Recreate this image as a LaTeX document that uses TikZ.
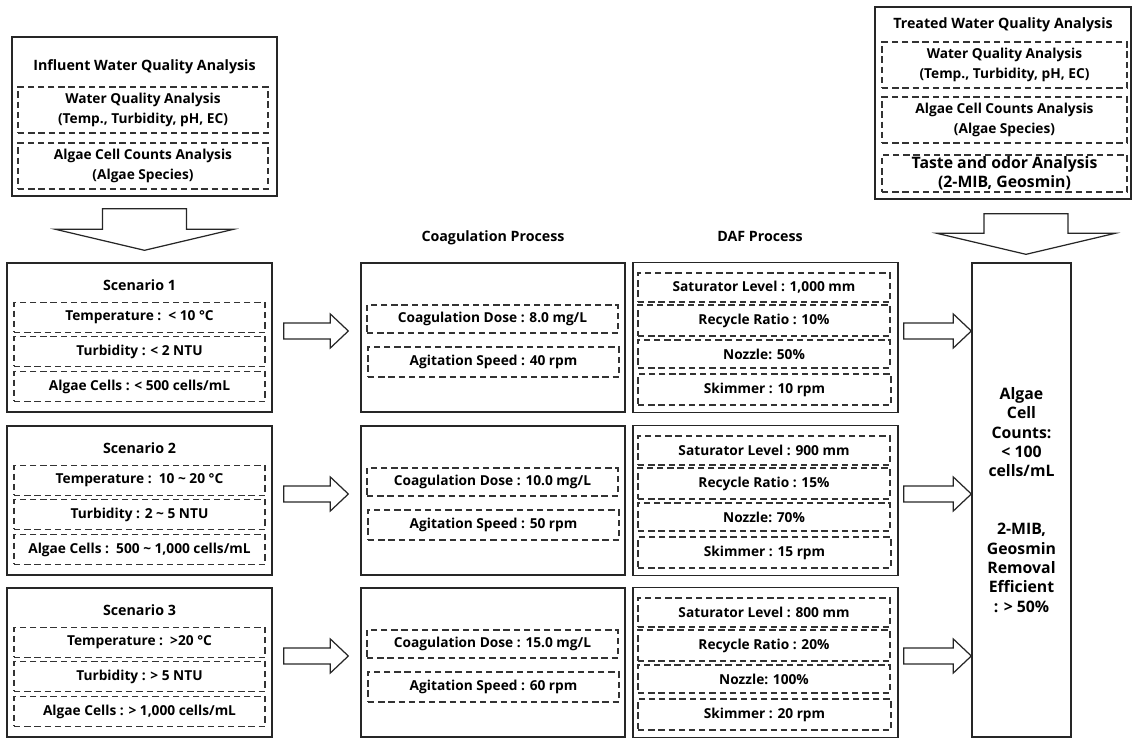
\documentclass[tikz,border=0pt]{standalone}
\usepackage{fontspec}
\setmainfont{Open Sans}
\usepackage{tikz}
\usetikzlibrary{calc, positioning}
\newcommand\rowfont{\fontsize{7.8}{11.2}\selectfont\bfseries}
\newcommand\headfont{\fontsize{8.1}{10}\selectfont\bfseries}
\newcommand\bigfont{\fontsize{9.0}{11}\selectfont\bfseries}
\tikzset{
  outerbox/.style={
    rectangle, draw=black!85, line width=0.8pt, inner sep=0pt
  },
  dashrow/.style={
    rectangle, draw=black!80, dashed, dash pattern=on 3.6pt off 2.2pt,
    line width=0.65pt, inner sep=0pt, align=center,
    minimum width=5.02cm, minimum height=0.6cm, font=\rowfont
  },
  boxtitle/.style={inner sep=0pt, font=\headfont},
  fatright/.style={draw=black!85, line width=0.7pt,
    to path={let \p1=(\tikztostart), \p2=(\tikztotarget) in
      (\x1,\y1+0.16cm) -- (\x2-0.36cm,\y1+0.16cm) -- (\x2-0.36cm,\y1+0.34cm)
      -- (\x2,\y1) -- (\x2-0.36cm,\y1-0.34cm) -- (\x2-0.36cm,\y1-0.16cm)
      -- (\x1,\y1-0.16cm) -- cycle}},
  fatdown/.style={draw=black!85, line width=0.7pt,
    to path={let \p1=(\tikztostart), \p2=(\tikztotarget) in
      (\x1-0.84cm,\y1) -- (\x1-0.84cm,\y2+0.42cm) -- (\x1-1.78cm,\y2+0.42cm)
      -- (\x1,\y2) -- (\x1+1.78cm,\y2+0.42cm) -- (\x1+0.84cm,\y2+0.42cm)
      -- (\x1+0.84cm,\y1) -- cycle}}
}
\begin{document}
\begin{tikzpicture}[x=0.02cm, y=-0.02cm]
  \useasboundingbox (0,0) rectangle (1133,739);

  %% --- Influent analysis ---
  \node[outerbox, minimum width=5.3cm, minimum height=3.18cm] (inf) at (144.5,116.5) {};
  \node[boxtitle] (infT) at (144.5,67) {Influent Water Quality Analysis};
  \node[dashrow, minimum width=5.0cm, minimum height=0.92cm] (infA) at (143,110)
    {Water Quality Analysis\\(Temp., Turbidity, pH, EC)};
  \node[dashrow, minimum width=5.0cm, minimum height=0.92cm] (infB) at (143,166)
    {Algae Cell Counts Analysis\\(Algae Species)};

  %% --- Treated analysis ---
  \node[outerbox, minimum width=5.12cm, minimum height=3.84cm] (trt) at (1003,103) {};
  \node[boxtitle] (trtT) at (1003,25) {Treated Water Quality Analysis};
  \node[dashrow, minimum width=4.9cm, minimum height=0.92cm] (trtA) at (1004.5,65)
    {Water Quality Analysis\\(Temp., Turbidity, pH, EC)};
  \node[dashrow, minimum width=4.9cm, minimum height=0.92cm] (trtB) at (1004.5,120)
    {Algae Cell Counts Analysis\\(Algae Species)};
  \node[dashrow, minimum width=4.9cm, minimum height=0.74cm, font=\bigfont] (trtC) at (1004.5,173.5)
    {Taste and odor Analysis\\(2-MIB, Geosmin)};

  %% --- Column headers ---
  \node[boxtitle] (coagH) at (493,238) {Coagulation Process};
  \node[boxtitle] (dafH) at (760,236) {DAF Process};

  %% --- Scenario 1 ---
  \node[outerbox, minimum width=5.3cm, minimum height=2.98cm] (sc1) at (139.5,337.5) {};
  \node[boxtitle] (sc1T) at (139.5,285) {Scenario 1};
  \node[dashrow] (sc1a) at (139.5,317.5) {Temperature :\ \ < 10 °C};
  \node[dashrow] (sc1b) at (139.5,351.5) {Turbidity : < 2 NTU};
  \node[dashrow] (sc1c) at (139.5,386.5) {Algae Cells : < 500 cells/mL};

  \node[outerbox, minimum width=5.28cm, minimum height=2.98cm] (co1) at (493,337.5) {};
  \node[dashrow, minimum height=0.56cm] (co1a) at (492.5,319) {Coagulation Dose : 8.0 mg/L};
  \node[dashrow] (co1b) at (493.5,362) {Agitation Speed : 40 rpm};

  \node[outerbox, minimum width=5.3cm, minimum height=3.0cm] (df1) at (765.5,337.5) {};
  \node[dashrow, minimum width=5.04cm, minimum height=0.58cm] (df1a) at (764,287.5) {Saturator Level : 1,000 mm};
  \node[dashrow, minimum width=5.04cm, minimum height=0.62cm] (df1b) at (764,320.5) {Recycle Ratio : 10\%};
  \node[dashrow, minimum width=5.04cm, minimum height=0.56cm] (df1c) at (764,354) {Nozzle: 50\%};
  \node[dashrow, minimum width=5.06cm, minimum height=0.62cm] (df1d) at (764.5,389.5) {Skimmer : 10 rpm};

  %% --- Scenario 2 ---
  \node[outerbox, minimum width=5.3cm, minimum height=2.98cm] (sc2) at (139.5,500.5) {};
  \node[boxtitle] (sc2T) at (139.5,448) {Scenario 2};
  \node[dashrow] (sc2a) at (139.5,480.5) {Temperature :\ \ 10 \textasciitilde{} 20 °C};
  \node[dashrow] (sc2b) at (139.5,514.5) {Turbidity : 2 \textasciitilde{} 5 NTU};
  \node[dashrow] (sc2c) at (139.5,549.5) {Algae Cells :\ \ 500 \textasciitilde{} 1,000 cells/mL};

  \node[outerbox, minimum width=5.28cm, minimum height=2.98cm] (co2) at (493,500.5) {};
  \node[dashrow, minimum height=0.56cm] (co2a) at (492.5,482) {Coagulation Dose : 10.0 mg/L};
  \node[dashrow] (co2b) at (493.5,525) {Agitation Speed : 50 rpm};

  \node[outerbox, minimum width=5.3cm, minimum height=3.0cm] (df2) at (765.5,500.5) {};
  \node[dashrow, minimum width=5.04cm, minimum height=0.58cm] (df2a) at (764,450.5) {Saturator Level : 900 mm};
  \node[dashrow, minimum width=5.04cm, minimum height=0.62cm] (df2b) at (764,483.5) {Recycle Ratio : 15\%};
  \node[dashrow, minimum width=5.04cm, minimum height=0.56cm] (df2c) at (764,517) {Nozzle: 70\%};
  \node[dashrow, minimum width=5.06cm, minimum height=0.62cm] (df2d) at (764.5,552.5) {Skimmer : 15 rpm};

  %% --- Scenario 3 ---
  \node[outerbox, minimum width=5.3cm, minimum height=2.98cm] (sc3) at (139.5,662.5) {};
  \node[boxtitle] (sc3T) at (139.5,610) {Scenario 3};
  \node[dashrow] (sc3a) at (139.5,642.5) {Temperature :\ \ >20 °C};
  \node[dashrow] (sc3b) at (139.5,676.5) {Turbidity : > 5 NTU};
  \node[dashrow] (sc3c) at (139.5,711.5) {Algae Cells : > 1,000 cells/mL};

  \node[outerbox, minimum width=5.28cm, minimum height=2.98cm] (co3) at (493,662.5) {};
  \node[dashrow, minimum height=0.56cm] (co3a) at (492.5,644) {Coagulation Dose : 15.0 mg/L};
  \node[dashrow] (co3b) at (493.5,687) {Agitation Speed : 60 rpm};

  \node[outerbox, minimum width=5.3cm, minimum height=3.0cm] (df3) at (765.5,662.5) {};
  \node[dashrow, minimum width=5.04cm, minimum height=0.58cm] (df3a) at (764,612.5) {Saturator Level : 800 mm};
  \node[dashrow, minimum width=5.04cm, minimum height=0.62cm] (df3b) at (764,645.5) {Recycle Ratio : 20\%};
  \node[dashrow, minimum width=5.04cm, minimum height=0.56cm] (df3c) at (764,679) {Nozzle: 100\%};
  \node[dashrow, minimum width=5.06cm, minimum height=0.62cm] (df3d) at (764.5,714.5) {Skimmer : 20 rpm};

  %% --- Result ---
  \node[outerbox, minimum width=1.98cm, minimum height=9.48cm, align=center, font=\bigfont] (res) at (1021.5,500)
    {Algae\\Cell\\Counts:\\< 100\\cells/mL\\[22pt]2-MIB,\\Geosmin\\Removal\\Efficient\\: > 50\%};

  %% --- Arrows ---
  \draw[fatdown] ([yshift=-0.24cm]inf.south) to ([yshift=0.24cm]sc1.north);
  \draw[fatdown] ([xshift=0.46cm, yshift=-0.28cm]trt.south) to ([yshift=0.16cm]res.north);

  \draw[fatright] ([xshift=0.22cm, yshift=0.13cm]sc1.east) to ([xshift=-0.24cm, yshift=0.13cm]co1.west);
  \draw[fatright] ([xshift=0.22cm, yshift=0.13cm]sc2.east) to ([xshift=-0.24cm, yshift=0.13cm]co2.west);
  \draw[fatright] ([xshift=0.22cm, yshift=0.13cm]sc3.east) to ([xshift=-0.24cm, yshift=0.13cm]co3.west);

  \draw[fatright] ([xshift=0.1cm, yshift=0.13cm]df1.east) to (res.west);
  \draw[fatright] ([xshift=0.1cm, yshift=0.13cm]df2.east) to (res.west);
  \draw[fatright] ([xshift=0.1cm, yshift=0.13cm]df3.east) to (res.west);

\end{tikzpicture}
\end{document}
